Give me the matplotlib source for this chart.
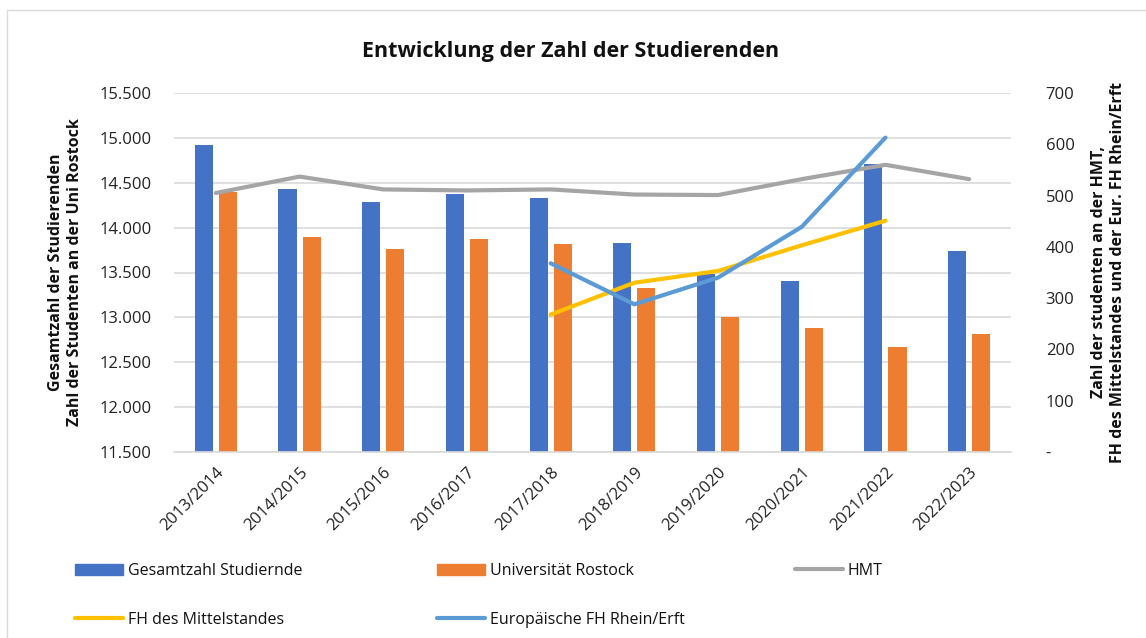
import numpy as np
import matplotlib
matplotlib.use("Agg")
import matplotlib.pyplot as plt
from matplotlib.patches import Patch, Rectangle
from matplotlib.lines import Line2D
from matplotlib.ticker import FuncFormatter, MultipleLocator

plt.rcParams['font.family'] = ['Open Sans', 'DejaVu Sans']

categories = ['2013/2014', '2014/2015', '2015/2016', '2016/2017', '2017/2018',
              '2018/2019', '2019/2020', '2020/2021', '2021/2022', '2022/2023']
gesamt = [14920, 14430, 14280, 14380, 14330, 13825, 13480, 13410, 14705, 13745]
uni_rostock = [14400, 13890, 13765, 13870, 13815, 13325, 13005, 12880, 12665, 12815]
hmt = [505, 537, 512, 510, 512, 502, 501, 532, 560, 532]
fh_mittelstand = [np.nan, np.nan, np.nan, np.nan, 268, 330, 353, 403, 451, np.nan]
eur_fh = [np.nan, np.nan, np.nan, np.nan, 368, 288, 340, 439, 613, np.nan]

C_BLUE = '#4472C4'
C_ORANGE = '#ED7D31'
C_GRAY = '#A5A5A5'
C_YELLOW = '#FFC000'
C_LBLUE = '#5B9BD5'
GRID = '#D9D9D9'

W, H = 1146, 638
fig = plt.figure(figsize=(W / 100, H / 100), dpi=100)

# chart border
fig.patches.append(Rectangle((7 / W, -0.05), 1.2, 1 - 10 / H + 0.05,
                             transform=fig.transFigure, fill=False,
                             edgecolor=GRID, linewidth=1.0))

left, right, top, bottom = 174, 1011, 93, 452
ax = fig.add_axes([left / W, 1 - bottom / H, (right - left) / W, (bottom - top) / H])
ax2 = ax.twinx()

x = np.arange(len(categories))
bw = 0.216
off = 0.144
ax.bar(x - off, gesamt, width=bw, color=C_BLUE, zorder=2)
ax.bar(x + off, uni_rostock, width=bw, color=C_ORANGE, zorder=2)

ax.set_xlim(-0.5, len(categories) - 0.5)
ax.set_ylim(11500, 15500)
ax.yaxis.set_major_locator(MultipleLocator(500))
ax.yaxis.set_major_formatter(FuncFormatter(lambda v, p: f"{int(v):,}".replace(',', '.')))
ax.grid(axis='y', color=GRID, linewidth=1.2, zorder=0)
ax.set_axisbelow(True)
for s in ['top', 'right', 'left']:
    ax.spines[s].set_visible(False)
ax.spines['bottom'].set_color(GRID)
ax.spines['bottom'].set_linewidth(1.2)
ax.tick_params(axis='y', length=0, pad=16, labelsize=12, labelcolor='#222222')
ax.tick_params(axis='x', length=0, pad=9, labelsize=12, labelcolor='#222222')
ax.set_xticks(x)
ax.set_xticklabels(categories, rotation=45, ha='right', va='top', rotation_mode='anchor')
ax.set_ylabel('Gesamtzahl der Studierenden\nZahl der Studenten an der Uni Rostock',
              fontsize=11.5, fontweight='bold', labelpad=12, color='#111111')

lw = 3.0
ax2.plot(x, hmt, color=C_GRAY, linewidth=lw, solid_capstyle='round', solid_joinstyle='round', zorder=3)
ax2.plot(x, fh_mittelstand, color=C_YELLOW, linewidth=lw, solid_capstyle='round', solid_joinstyle='round', zorder=3)
ax2.plot(x, eur_fh, color=C_LBLUE, linewidth=lw, solid_capstyle='round', solid_joinstyle='round', zorder=4)
ax2.set_ylim(0, 700)
ax2.yaxis.set_major_locator(MultipleLocator(100))
ax2.yaxis.set_major_formatter(FuncFormatter(lambda v, p: '-' if v == 0 else f"{int(v)}"))
for s in ax2.spines.values():
    s.set_visible(False)
ax2.tick_params(axis='y', length=0, pad=25, labelsize=12, labelcolor='#222222')
ax2.set_ylabel('Zahl der studenten an der HMT,\nFH des Mittelstandes und der Eur. FH Rhein/Erft',
               fontsize=11.5, fontweight='bold', labelpad=12, color='#111111')

fig.text(571 / W, 1 - 52 / H, 'Entwicklung der Zahl der Studierenden',
         ha='center', va='center', fontsize=15.5, fontweight='bold', color='#111111')

# legend entries placed like the reference
def add_leg(handle, label, px, py):
    fig.legend([handle], [label], loc='center left',
               bbox_to_anchor=(px / W, 1 - py / H), frameon=False,
               borderpad=0, borderaxespad=0, handlelength=3.0, handleheight=0.7,
               handletextpad=0.3, fontsize=11.5, labelcolor='#111111')

add_leg(Patch(color=C_BLUE), 'Gesamtzahl Studiernde', 75, 571)
add_leg(Patch(color=C_ORANGE), 'Universität Rostock', 437, 571)
add_leg(Line2D([], [], color=C_GRAY, linewidth=lw, solid_capstyle='round'), 'HMT', 795, 571)
add_leg(Line2D([], [], color=C_YELLOW, linewidth=lw, solid_capstyle='round'), 'FH des Mittelstandes', 75, 620)
add_leg(Line2D([], [], color=C_LBLUE, linewidth=lw, solid_capstyle='round'), 'Europäische FH Rhein/Erft', 437, 620)

fig.savefig('out.png', dpi=100)
